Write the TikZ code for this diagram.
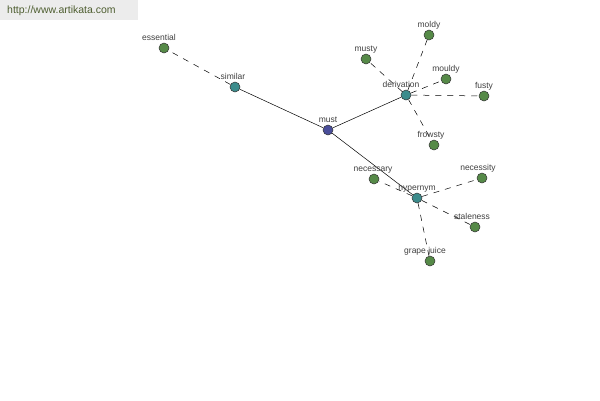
\documentclass[tikz,border=0pt]{standalone}
\usepackage{fontspec}
\setmainfont{Liberation Sans}
\begin{document}
\begin{tikzpicture}[x=1pt,y=-1pt,
  dot/.style={circle,draw=black!80,line width=0.5pt,minimum size=10pt,inner sep=0pt},
  leaf/.style={dot,fill=leafgreen},
  mid/.style={dot,fill=midteal},
  root/.style={dot,fill=rootblue},
  lab/.style={font=\fontsize{8.5}{9}\selectfont,text=black!75,inner sep=0pt},
  solid edge/.style={line width=0.5pt,draw=black},
  dash edge/.style={line width=0.5pt,draw=black,dash pattern=on 6pt off 6pt}]
\definecolor{leafgreen}{HTML}{568A48}
\definecolor{midteal}{HTML}{3C8C8C}
\definecolor{rootblue}{HTML}{4A4E9A}
\definecolor{wmfill}{HTML}{ECECEC}
\definecolor{wmtext}{HTML}{4E5E30}
\fill[white] (0,0) rectangle (600,400);
\useasboundingbox (0,0) rectangle (600,400);
\fill[wmfill] (0,0) rectangle (138,20);
\node[font=\fontsize{10.5}{11}\selectfont,text=wmtext,anchor=west,inner sep=0pt] (wm) at (7,11) {http://www.artikata.com};
% nodes
\node[root] (must) at (328,130) {};
\node[mid] (similar) at (235,87) {};
\node[leaf] (essential) at (164,48) {};
\node[mid] (derivation) at (406,95) {};
\node[leaf] (musty) at (366,59) {};
\node[leaf] (moldy) at (429,35) {};
\node[leaf] (mouldy) at (446,79) {};
\node[leaf] (fusty) at (484,96) {};
\node[leaf] (frowsty) at (434,145) {};
\node[mid] (hypernym) at (417,198) {};
\node[leaf] (necessary) at (374,179) {};
\node[leaf] (necessity) at (482,178) {};
\node[leaf] (staleness) at (475,227) {};
\node[leaf] (grapejuice) at (430,261) {};
% edges
\draw[solid edge] (must) -- (similar);
\draw[solid edge] (must) -- (derivation);
\draw[solid edge] (must) -- (hypernym);
\draw[dash edge] (similar) -- (essential);
\foreach \t in {musty,moldy,mouldy,fusty,frowsty}
  \draw[dash edge] (derivation) -- (\t);
\foreach \t in {necessary,necessity,staleness,grapejuice}
  \draw[dash edge] (hypernym) -- (\t);
% labels
\foreach \n/\t/\dx in {must/must/0,similar/similar/-2,essential/essential/-5,derivation/derivation/-5,
  musty/musty/0,moldy/moldy/0,mouldy/mouldy/0,fusty/fusty/0,frowsty/frowsty/-3,hypernym/hypernym/0,
  necessary/necessary/-1,necessity/necessity/-4,staleness/staleness/-3,grapejuice/grape juice/-5}
  \node[lab,anchor=base] (l-\n) at ([xshift=\dx pt,yshift=2.5pt]\n.north) {\t};
\end{tikzpicture}
\end{document}
